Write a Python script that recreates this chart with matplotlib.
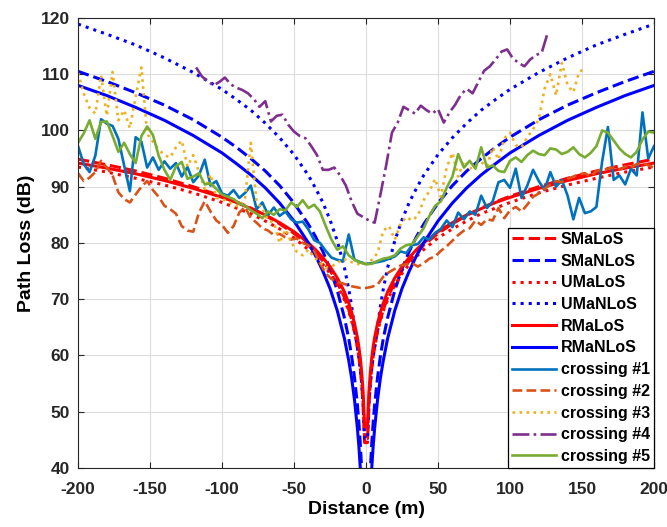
import numpy as np
import matplotlib
matplotlib.use("Agg")
import matplotlib.pyplot as plt

plt.rcParams["font.family"] = ["Liberation Sans", "DejaVu Sans"]
plt.rcParams["font.weight"] = "bold"
plt.rcParams["axes.unicode_minus"] = False

# model curves: path loss (dB) vs |distance| (m), symmetric around 0
model_dist = [1, 2, 3, 4, 5, 6, 8, 10, 12, 15, 20, 25, 30, 35, 40, 50, 60, 70, 80,
              90, 100, 120, 140, 160, 180, 200]
sma_los = [44.5, 51.1, 55.0, 57.7, 59.8, 61.5, 64.3, 66.4, 68.1, 70.3, 73.0, 75.1, 76.8,
           78.3, 79.6, 81.7, 83.4, 84.9, 86.2, 87.3, 88.3, 90.0, 91.5, 92.8, 93.9, 94.9]
sma_nlos = [21.0, 32.7, 39.6, 44.4, 48.2, 51.3, 56.1, 59.9, 63.0, 66.7, 71.6, 75.4, 78.5,
            81.1, 83.3, 87.1, 90.2, 92.8, 95.0, 97.0, 98.8, 101.9, 104.5, 106.7, 108.7, 110.5]
uma_los = [45.2, 51.5, 55.2, 57.8, 59.9, 61.5, 64.2, 66.2, 67.9, 69.9, 72.5, 74.6, 76.2,
           77.6, 78.8, 80.9, 82.5, 83.9, 85.2, 86.2, 87.2, 88.9, 90.3, 91.5, 92.6, 93.5]
uma_nlos = [45.2, 51.5, 55.2, 57.8, 59.9, 61.5, 65.1, 68.8, 71.8, 75.6, 80.4, 84.1, 87.2,
            89.7, 92.0, 95.7, 98.7, 101.3, 103.6, 105.5, 107.3, 110.3, 112.9, 115.2, 117.1, 118.9]
rma_los = [47.3, 53.4, 57.0, 59.6, 61.6, 63.2, 65.7, 67.7, 69.3, 71.3, 73.8, 75.8, 77.4,
           78.8, 80.0, 82.0, 83.6, 85.0, 86.1, 87.2, 88.1, 89.7, 91.1, 92.3, 93.3, 94.2]
rma_nlos = [16.0, 28.0, 35.1, 40.1, 44.0, 47.1, 52.1, 56.0, 59.1, 63.0, 68.0, 71.9, 75.0,
            77.7, 80.0, 83.9, 87.1, 89.8, 92.1, 94.1, 96.0, 99.1, 101.8, 104.1, 106.2, 108.0]

# measured crossings
dist_full = np.arange(-200, 201, 4)
crossing1 = [97.2, 94.0, 92.6, 95.5, 102.0, 101.2, 100.8, 98.5, 93.8, 89.2, 98.8, 98.0, 93.4,
             95.2, 93.0, 94.5, 93.2, 94.2, 91.8, 93.5, 90.8, 92.0, 94.8, 90.2, 91.0, 88.8,
             88.4, 89.4, 88.0, 88.9, 90.2, 86.0, 87.2, 85.0, 86.3, 84.8, 85.6, 84.2, 83.6,
             83.8, 82.4, 80.5, 80.0, 78.6, 77.4, 77.0, 76.8, 81.5, 77.0, 76.6, 76.3, 76.4,
             76.6, 76.8, 77.2, 77.6, 78.5, 78.2, 79.6, 79.8, 81.0, 80.6, 81.8, 82.5, 84.0,
             82.8, 85.4, 84.2, 85.6, 85.0, 88.4, 86.2, 87.4, 90.8, 91.2, 89.8, 93.2, 88.0,
             90.2, 93.0, 91.0, 89.4, 92.6, 90.0, 91.2, 88.4, 84.2, 88.0, 85.3, 85.6, 86.4,
             94.5, 100.6, 91.2, 92.0, 90.4, 93.2, 92.0, 103.2, 95.0, 97.2]
crossing2 = [92.4, 91.0, 91.6, 92.6, 94.6, 93.4, 92.0, 89.0, 87.8, 87.2, 88.6, 90.0, 91.0,
             89.4, 88.2, 86.6, 86.0, 85.2, 83.0, 82.2, 82.0, 85.4, 87.4, 85.6, 84.0, 83.2,
             81.8, 83.0, 85.4, 86.4, 84.4, 83.6, 82.6, 82.2, 81.4, 81.6, 81.0, 80.6, 80.8,
             80.0, 79.6, 78.6, 76.4, 74.6, 73.6, 73.0, 72.8, 72.4, 72.2, 72.0, 72.0, 72.2,
             72.6, 74.0, 74.8, 75.4, 76.0, 76.2, 76.4, 75.8, 76.4, 77.2, 77.6, 78.6, 79.4,
             80.4, 81.4, 82.2, 82.6, 84.0, 83.2, 84.2, 84.0, 86.2, 84.4, 85.8, 86.4, 85.6,
             86.8, 88.2, 88.8, 89.6, 90.4, 91.0, 90.8, 91.4, 91.8, 92.2, 92.4, 91.8, 92.8,
             93.0, 93.2, 93.4, 93.0, 93.6, 93.4, 94.0, 94.2, 93.8, 93.4]
dist_c3 = np.arange(-200, 153, 4)
crossing3 = [110.2, 106.5, 104.0, 103.0, 109.8, 102.6, 110.4, 101.8, 103.6, 100.4, 106.0,
             111.2, 99.4, 98.0, 96.6, 95.6, 95.2, 97.0, 98.2, 93.6, 95.6, 92.6, 89.6, 92.2,
             88.0, 87.8, 87.4, 86.8, 86.4, 88.0, 97.8, 87.2, 86.2, 84.0, 83.6, 80.0, 82.4,
             80.2, 78.4, 77.8, 78.8, 77.4, 76.6, 75.6, 75.8, 76.4, 77.2, 76.8, 76.4, 76.2,
             76.4, 77.0, 78.2, 82.2, 83.0, 80.6, 83.4, 84.6, 84.0, 84.8, 87.6, 89.2, 91.4,
             88.2, 93.4, 96.0, 91.8, 94.6, 93.2, 93.8, 94.4, 93.6, 97.0, 94.8, 98.6, 99.6,
             97.4, 97.0, 98.8, 100.2, 102.0, 107.4, 110.0, 106.2, 112.0, 108.0, 106.8, 110.4,
             111.0]
dist_c4 = np.arange(-118, 127, 4)
crossing4 = [111.2, 109.6, 108.8, 108.0, 108.6, 109.4, 108.2, 107.6, 107.2, 106.6, 105.6,
             104.2, 105.2, 101.6, 102.6, 102.8, 101.0, 99.8, 99.0, 98.6, 97.2, 95.6, 93.0,
             93.0, 93.4, 92.0, 90.2, 87.4, 85.2, 84.6, 84.0, 83.6, 88.6, 93.8, 99.6, 101.4,
             104.2, 103.6, 103.0, 104.4, 103.6, 103.0, 103.8, 101.4, 103.2, 104.6, 106.4,
             107.4, 106.6, 108.6, 110.6, 111.4, 112.6, 114.0, 114.4, 112.8, 112.0, 111.4,
             112.6, 113.4, 113.8, 117.2]
crossing5 = [97.8, 99.5, 101.8, 98.5, 101.5, 101.6, 99.0, 96.2, 97.8, 95.8, 94.2, 99.0,
             100.7, 99.2, 95.5, 93.0, 91.2, 93.6, 94.4, 91.4, 91.8, 92.4, 90.4, 90.6, 89.6,
             88.6, 88.2, 87.8, 87.0, 86.6, 85.8, 85.2, 84.4, 85.6, 85.0, 86.0, 85.8, 87.2,
             86.4, 87.6, 86.2, 86.8, 85.6, 83.0, 80.6, 78.8, 79.4, 77.8, 77.0, 76.5, 76.2,
             76.3, 76.8, 77.2, 77.4, 77.8, 79.0, 79.6, 79.8, 81.2, 82.6, 84.8, 86.6, 87.4,
             89.8, 91.8, 95.8, 93.4, 94.6, 93.2, 97.0, 93.4, 93.8, 92.8, 92.6, 94.6, 95.2,
             94.4, 95.6, 96.4, 95.8, 95.6, 96.8, 96.6, 95.8, 96.2, 97.0, 95.8, 95.2, 96.0,
             97.2, 100.0, 99.6, 98.2, 96.8, 95.8, 95.2, 96.2, 98.4, 99.8, 99.6]


def mirror(d, v):
    d = np.asarray(d, dtype=float)
    v = np.asarray(v, dtype=float)
    return np.concatenate([-d[::-1], d]), np.concatenate([v[::-1], v])


fig = plt.figure(figsize=(6.67, 5.27), dpi=100)
ax = fig.add_axes([0.117, 0.112, 0.8635, 0.854])

models = [
    (sma_los, "r", "--", "SMaLoS"),
    (sma_nlos, "b", "--", "SMaNLoS"),
    (uma_los, "r", ":", "UMaLoS"),
    (uma_nlos, "b", ":", "UMaNLoS"),
    (rma_los, "r", "-", "RMaLoS"),
    (rma_nlos, "b", "-", "RMaNLoS"),
]
for vals, col, ls, lab in models:
    x, y = mirror(model_dist, vals)
    ax.plot(x, y, color=col, linestyle=ls, linewidth=2.2, label=lab)

ax.plot(dist_full, crossing1, color="#0072BD", ls="-", lw=1.9, label="crossing #1")
ax.plot(dist_full, crossing2, color="#D95319", ls="--", lw=1.9, label="crossing #2")
ax.plot(dist_c3, crossing3, color="#EDB120", ls=":", lw=1.9, label="crossing #3")
ax.plot(dist_c4, crossing4, color="#7E2F8E", ls="-.", lw=1.9, label="crossing #4")
ax.plot(dist_full, crossing5, color="#77AC30", ls="-", lw=1.9, label="crossing #5")

ax.set_xlim(-200, 200)
ax.set_ylim(40, 120)
ax.set_xticks(np.arange(-200, 201, 50))
ax.set_yticks(np.arange(40, 121, 10))
ax.grid(True, color="#dcdcdc", linewidth=0.8)
ax.set_axisbelow(True)
ax.tick_params(direction="in", top=True, right=True, length=4, labelsize=12.5,
               colors="#262626", width=0.8)
ax.tick_params(axis="x", pad=10)
ax.tick_params(axis="y", pad=6)
for lbl in ax.get_xticklabels() + ax.get_yticklabels():
    lbl.set_fontweight("bold")
for sp in ax.spines.values():
    sp.set_color("#262626")
    sp.set_linewidth(0.8)

ax.set_xlabel("Distance (m)", fontsize=14, fontweight="bold", labelpad=3)
ax.set_ylabel("Path Loss (dB)", fontsize=14, fontweight="bold", labelpad=4)

leg = ax.legend(loc="lower right", borderaxespad=0, handlelength=2.75, handletextpad=0.3,
                labelspacing=0.42, borderpad=0.25, fancybox=False, edgecolor="k",
                framealpha=1, prop={"weight": "bold", "size": 11.5})
leg.get_frame().set_linewidth(0.9)

fig.savefig("out.png", dpi=100)
